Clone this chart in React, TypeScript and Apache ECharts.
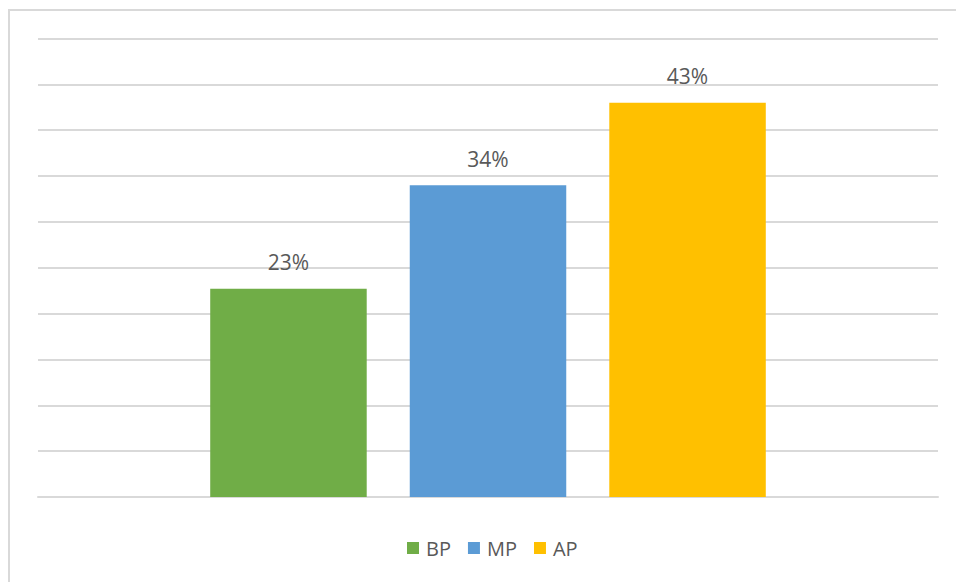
import React, { useEffect, useRef } from "react";
import * as echarts from "echarts";

const categories = [""];
const seriesNames = ["BP", "MP", "AP"];
const seriesValues = [22.7, 34, 43];
const seriesColors = ["#70AD47", "#5B9BD5", "#FFC000"];
const yTicks = { min: 0, max: 50, interval: 5 };

export default function App() {
  const ref = useRef<HTMLDivElement>(null);
  useEffect(() => {
    if (!ref.current) return;
    const chart = echarts.init(ref.current, undefined, { renderer: "svg" });
    const font = "'Open Sans', 'Noto Sans', sans-serif";
    chart.setOption({
      animation: false,
      backgroundColor: "#ffffff",
      graphic: [
        {
          type: "rect",
          shape: { x: 9, y: 10, width: 1000, height: 1000 },
          style: { fill: "none", stroke: "#d9d9d9", lineWidth: 2 },
          silent: true,
        },
      ],
      grid: { left: 38, right: 18, top: 38.5, bottom: 85 },
      legend: {
        data: seriesNames,
        left: 407,
        top: 537,
        padding: 0,
        icon: "rect",
        itemWidth: 12,
        itemHeight: 12,
        itemGap: 17,
        textStyle: {
          color: "#595959",
          fontSize: 20,
          fontFamily: font,
          lineHeight: 22,
          padding: [0, 0, 0, 2],
        },
      },
      xAxis: {
        type: "category",
        data: categories,
        axisLine: { show: true, lineStyle: { color: "#d9d9d9", width: 2 } },
        axisTick: { show: false },
        axisLabel: { show: false },
      },
      yAxis: {
        type: "value",
        min: yTicks.min,
        max: yTicks.max,
        interval: yTicks.interval,
        axisLabel: { show: false },
        axisLine: { show: false },
        axisTick: { show: false },
        splitLine: { lineStyle: { color: "#d9d9d9", width: 2 } },
      },
      series: seriesNames.map((name, i) => ({
        name,
        type: "bar",
        data: [seriesValues[i]],
        barWidth: 156.5,
        barGap: "27.5%",
        itemStyle: { color: seriesColors[i] },
        label: {
          show: true,
          position: "top",
          distance: 16,
          color: "#595959",
          fontSize: 21,
          fontFamily: font,
          formatter: (p: any) => Math.round(p.value) + "%",
        },
      })),
    });
    return () => chart.dispose();
  }, []);
  return (
    <div
      ref={ref}
      style={{ position: "fixed", left: 0, top: 0, width: 956, height: 582 }}
    />
  );
}
